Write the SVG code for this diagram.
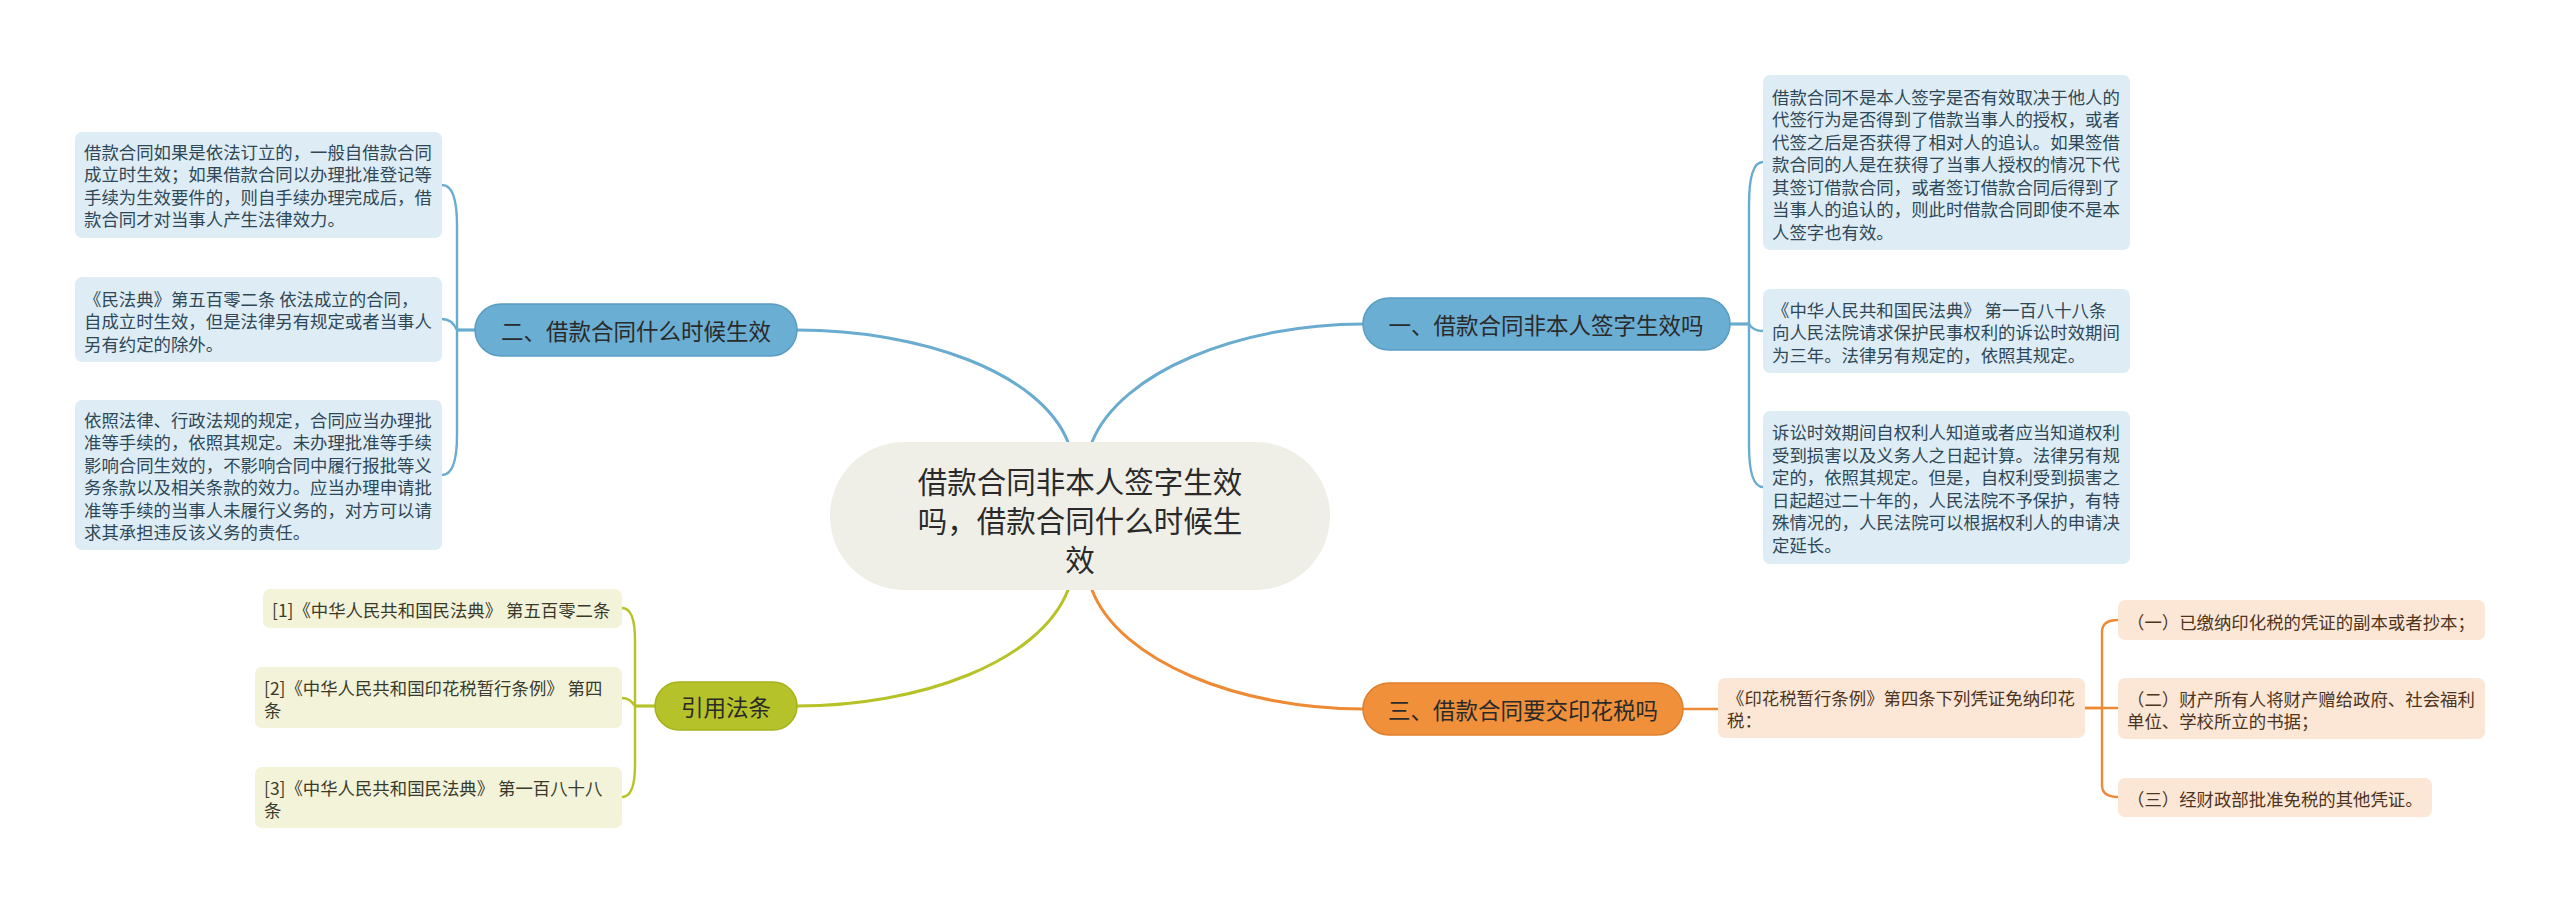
<svg xmlns="http://www.w3.org/2000/svg" width="2560" height="904" viewBox="0 0 2560 904">
<style>
text{font-family:"Noto Sans CJK SC","Noto Sans",sans-serif;dominant-baseline:central}
.c{fill:none;stroke-linecap:round;stroke-linejoin:round}
.bl{stroke:#6aaccf}
.gr{stroke:#b6c226}
.or{stroke:#ee8a34}
.main{stroke-width:3}
.br{stroke-width:2.4}
.lb rect{fill:#deedf5}
.lb text{fill:#2e4858;font-size:17.4px}
.lo rect{fill:#fce7d6}
.lo text{fill:#4d3420;font-size:17.4px}
.lg rect{fill:#f2f3d9}
.lg text{fill:#3a3a2c;font-size:17.4px}
.mb rect{fill:#6aaed3;stroke:#5a9dc2;stroke-width:1.5}
.mo rect{fill:#f0903b;stroke:#e07f2a;stroke-width:1.5}
.mg rect{fill:#b5c229;stroke:#a5b21c;stroke-width:1.5}
.mt{fill:#2a2a2a;font-size:22.5px;text-anchor:middle}
.ct{fill:#2a2a2a;font-size:29.5px;text-anchor:middle}
</style>
<rect width="2560" height="904" fill="#ffffff"/>
<g id="connectors">
<path class="c bl main" d="M1068,442 C1040,372 920,330 797,330"/>
<path class="c bl main" d="M1092,442 C1120,372 1240,324 1363,324"/>
<path class="c gr main" d="M1068,590 C1040,662 920,706 797,706"/>
<path class="c or main" d="M1092,590 C1120,662 1240,709 1363,709"/>
<path class="c bl br" d="M1730,324 H1749 V205 Q1749,162 1763,162"/>
<path class="c bl br" d="M1730,324 H1749 Q1753,331 1763,331"/>
<path class="c bl br" d="M1730,324 H1749 V445 Q1749,487 1763,487"/>
<path class="c bl br" d="M475,330 H457 V225 Q457,185 442,185"/>
<path class="c bl br" d="M475,330 H457 Q452,319 442,319"/>
<path class="c bl br" d="M475,330 H457 V435 Q457,475 442,475"/>
<path class="c gr br" d="M655,706 H635 V640 Q635,608 622,608"/>
<path class="c gr br" d="M655,706 H635 Q630,698 622,698"/>
<path class="c gr br" d="M655,706 H635 V765 Q635,797 622,797"/>
<path class="c or br" d="M1683,709 H1718"/>
<path class="c or br" d="M2085,708 H2102 V632 Q2102,620 2118,620"/>
<path class="c or br" d="M2085,708 H2118"/>
<path class="c or br" d="M2102,708 V785 Q2102,797 2118,797"/>
</g>
<g id="center">
<rect x="830" y="442" width="500" height="148" rx="74" fill="#efefe8"/>
<text class="ct" x="1080" y="480">借款合同非本人签字生效</text>
<text class="ct" x="1080" y="519">吗，借款合同什么时候生</text>
<text class="ct" x="1080" y="558">效</text>
</g>
<g id="n1" class="mb">
<rect x="1363" y="298" width="367" height="52" rx="26"/>
<text class="mt" x="1546" y="324">一、借款合同非本人签字生效吗</text>
</g>
<g id="n2" class="mb">
<rect x="475" y="304" width="322" height="52" rx="26"/>
<text class="mt" x="636" y="330">二、借款合同什么时候生效</text>
</g>
<g id="n3" class="mo">
<rect x="1363" y="683" width="320" height="52" rx="26"/>
<text class="mt" x="1523" y="709">三、借款合同要交印花税吗</text>
</g>
<g id="n4" class="mg">
<rect x="655" y="682" width="142" height="48" rx="24"/>
<text class="mt" x="726" y="706">引用法条</text>
</g>
<g id="l2a" class="lb">
<rect x="75" y="132" width="367" height="106" rx="7"/>
<text x="84" y="151.25">借款合同如果是依法订立的，一般自借款合同</text>
<text x="84" y="173.75">成立时生效；如果借款合同以办理批准登记等</text>
<text x="84" y="196.25">手续为生效要件的，则自手续办理完成后，借</text>
<text x="84" y="218.75">款合同才对当事人产生法律效力。</text>
</g>
<g id="l2b" class="lb">
<rect x="75" y="277" width="367" height="85" rx="7"/>
<text x="84" y="298">《民法典》第五百零二条 依法成立的合同，</text>
<text x="84" y="320.5">自成立时生效，但是法律另有规定或者当事人</text>
<text x="84" y="343">另有约定的除外。</text>
</g>
<g id="l2c" class="lb">
<rect x="75" y="400" width="367" height="150" rx="7"/>
<text x="84" y="419">依照法律、行政法规的规定，合同应当办理批</text>
<text x="84" y="441.5">准等手续的，依照其规定。未办理批准等手续</text>
<text x="84" y="464">影响合同生效的，不影响合同中履行报批等义</text>
<text x="84" y="486.5">务条款以及相关条款的效力。应当办理申请批</text>
<text x="84" y="509">准等手续的当事人未履行义务的，对方可以请</text>
<text x="84" y="531.5">求其承担违反该义务的责任。</text>
</g>
<g id="l1a" class="lb">
<rect x="1763" y="75" width="367" height="175" rx="7"/>
<text x="1772" y="96">借款合同不是本人签字是否有效取决于他人的</text>
<text x="1772" y="118.5">代签行为是否得到了借款当事人的授权，或者</text>
<text x="1772" y="141">代签之后是否获得了相对人的追认。如果签借</text>
<text x="1772" y="163.5">款合同的人是在获得了当事人授权的情况下代</text>
<text x="1772" y="186">其签订借款合同，或者签订借款合同后得到了</text>
<text x="1772" y="208.5">当事人的追认的，则此时借款合同即使不是本</text>
<text x="1772" y="231">人签字也有效。</text>
</g>
<g id="l1b" class="lb">
<rect x="1763" y="289" width="367" height="84" rx="7"/>
<text x="1772" y="309">《中华人民共和国民法典》 第一百八十八条</text>
<text x="1772" y="331.5">向人民法院请求保护民事权利的诉讼时效期间</text>
<text x="1772" y="354">为三年。法律另有规定的，依照其规定。</text>
</g>
<g id="l1c" class="lb">
<rect x="1763" y="411" width="367" height="153" rx="7"/>
<text x="1772" y="431.5">诉讼时效期间自权利人知道或者应当知道权利</text>
<text x="1772" y="454">受到损害以及义务人之日起计算。法律另有规</text>
<text x="1772" y="476.5">定的，依照其规定。但是，自权利受到损害之</text>
<text x="1772" y="499">日起超过二十年的，人民法院不予保护，有特</text>
<text x="1772" y="521.5">殊情况的，人民法院可以根据权利人的申请决</text>
<text x="1772" y="544">定延长。</text>
</g>
<g id="l3" class="lo">
<rect x="1718" y="678" width="367" height="60" rx="7"/>
<text x="1727" y="697">《印花税暂行条例》第四条下列凭证免纳印花</text>
<text x="1727" y="719.5">税：</text>
</g>
<g id="l3a" class="lo">
<rect x="2118" y="600" width="367" height="40" rx="7"/>
<text x="2127" y="621">（一）已缴纳印化税的凭证的副本或者抄本；</text>
</g>
<g id="l3b" class="lo">
<rect x="2118" y="678" width="367" height="61" rx="7"/>
<text x="2127" y="698">（二）财产所有人将财产赠给政府、社会福利</text>
<text x="2127" y="720.5">单位、学校所立的书据；</text>
</g>
<g id="l3c" class="lo">
<rect x="2118" y="778" width="314" height="39" rx="7"/>
<text x="2127" y="798">（三）经财政部批准免税的其他凭证。</text>
</g>
<g id="r1" class="lg">
<rect x="263" y="589" width="359" height="39" rx="7"/>
<text x="272" y="609.5">[1]《中华人民共和国民法典》 第五百零二条</text>
</g>
<g id="r2" class="lg">
<rect x="255" y="667" width="367" height="61" rx="7"/>
<text x="264" y="687">[2]《中华人民共和国印花税暂行条例》 第四</text>
<text x="264" y="709.5">条</text>
</g>
<g id="r3" class="lg">
<rect x="255" y="767" width="367" height="61" rx="7"/>
<text x="264" y="787">[3]《中华人民共和国民法典》 第一百八十八</text>
<text x="264" y="809.5">条</text>
</g>
</svg>
